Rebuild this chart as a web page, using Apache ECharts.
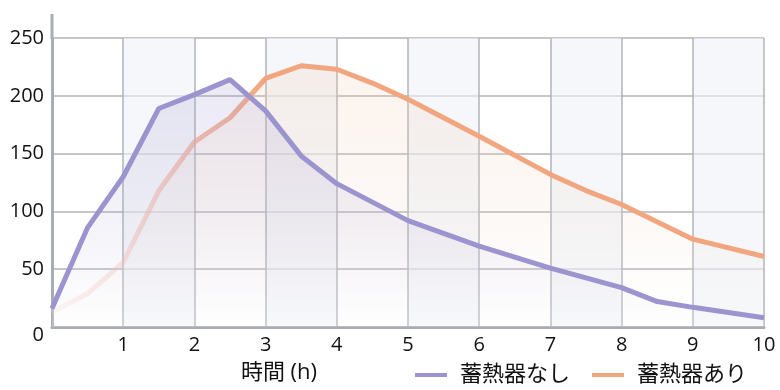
<!DOCTYPE html>
<html>
<head>
<meta charset="utf-8">
<script src="https://cdn.jsdelivr.net/npm/echarts@6/dist/echarts.min.js"></script>
<style>
html,body{margin:0;padding:0;background:#fff;}
#c{width:780px;height:390px;}
</style>
</head>
<body>
<div id="c"></div>
<script>
const seriesNames = ['蓄熱器なし', '蓄熱器あり'];
const xTicks = [0,1,2,3,4,5,6,7,8,9,10];
const yTicks = [0,50,100,150,200,250];
const xName = '時間 (h)';
const noStorageX = [0, 0.5, 1, 1.5, 2, 2.5, 3, 3.5, 4, 5, 6, 7, 8, 8.5, 9, 10];
const noStorageY = [16, 86, 130, 189, 201, 214, 187, 148, 124, 92, 70, 51, 34, 22, 17, 8];
const withStorageX = [0, 0.5, 1, 1.5, 2, 2.5, 3, 3.5, 4, 4.5, 5, 6, 7, 7.5, 8, 9, 10];
const withStorageY = [13, 29, 56, 118, 160, 181, 215, 226, 223, 211, 197, 165, 132, 118, 106, 76, 61];

const chart = echarts.init(document.getElementById('c'), null, {renderer:'canvas'});
const FONT = '"Open Sans","Noto Sans CJK JP",sans-serif';
const purple = '#9c94cf';
const orange = '#f2a67f';
const axisGray = '#a9adb3';
const gridGray = '#b0b3b9';

chart.setOption({
  animation: false,
  grid: {left: 52, right: 16, top: 38, bottom: 63, containLabel: false},
  legend: {
    data: seriesNames,
    left: 410, top: 359,
    icon: 'rect', itemWidth: 32, itemHeight: 4, itemGap: 22,
    textStyle: {fontSize: 22, color: '#111', fontFamily: FONT, padding: [0,0,0,8]}
  },
  xAxis: {
    type: 'value', min: xTicks[0], max: xTicks[xTicks.length-1], interval: 1,
    name: xName, nameLocation: 'middle', nameGap: 35,
    nameTextStyle: {fontSize: 22, color: '#111', fontFamily: FONT, padding: [0, 258, 0, 0]},
    axisLine: {show: true, lineStyle: {color: axisGray, width: 3}},
    axisTick: {show: false},
    axisLabel: {fontSize: 20, color: '#111', fontFamily: FONT, margin: 8,
      formatter: v => v === 0 ? '' : String(v)},
    splitLine: {show: true, lineStyle: {color: gridGray, width: 1.5}},
    splitArea: {show: true, areaStyle: {color: ['rgba(255,255,255,0)', 'rgba(238,241,246,0.6)']}}
  },
  yAxis: {
    type: 'value', min: yTicks[0], max: yTicks[yTicks.length-1], interval: 50,
    axisLine: {show: true, lineStyle: {color: axisGray, width: 3}},
    axisTick: {show: false},
    axisLabel: {fontSize: 20, color: '#111', fontFamily: FONT, margin: 8,
      formatter: v => v === 0 ? '{z|0}' : String(v),
      rich: {z: {fontSize: 20, color: '#111', fontFamily: FONT, padding: [16, 0, 0, 0]}}},
    splitLine: {show: true, lineStyle: {color: gridGray, width: 1.5}}
  },
  series: [
    {
      name: seriesNames[1], type: 'line', symbol: 'none', z: 2,
      data: withStorageX.map((x,i) => [x, withStorageY[i]]),
      lineStyle: {width: 5, color: new echarts.graphic.LinearGradient(0,0,1,0,[
        {offset: 0, color: 'rgba(245,205,200,0.2)'},
        {offset: 0.1, color: 'rgba(243,190,175,0.4)'},
        {offset: 0.2, color: 'rgba(242,170,145,0.75)'},
        {offset: 0.3, color: orange},
        {offset: 1, color: orange}
      ])},
      itemStyle: {color: orange},
      areaStyle: {origin: 'start', color: new echarts.graphic.LinearGradient(0,0,0,1,[
        {offset: 0, color: 'rgba(242,200,170,0.3)'},
        {offset: 0.6, color: 'rgba(240,215,200,0.22)'},
        {offset: 1, color: 'rgba(255,255,255,0.1)'}
      ])}
    },
    {
      name: seriesNames[0], type: 'line', symbol: 'none', z: 3,
      data: noStorageX.map((x,i) => [x, noStorageY[i]]),
      lineStyle: {width: 5, color: purple},
      itemStyle: {color: purple},
      areaStyle: {origin: 'start', color: new echarts.graphic.LinearGradient(0,0,0,1,[
        {offset: 0, color: 'rgba(160,150,205,0.3)'},
        {offset: 0.6, color: 'rgba(175,165,210,0.18)'},
        {offset: 1, color: 'rgba(255,255,255,0.2)'}
      ])}
    }
  ]
});

// extend y axis line above the top tick, as in the reference
const p0 = chart.convertToPixel({gridIndex: 0}, [0, yTicks[yTicks.length-1]]);
chart.setOption({
  graphic: [{type: 'line', shape: {x1: p0[0], y1: p0[1] - 24, x2: p0[0], y2: p0[1] + 1},
    style: {stroke: axisGray, lineWidth: 3}, z: 10}]
});
</script>
</body>
</html>
